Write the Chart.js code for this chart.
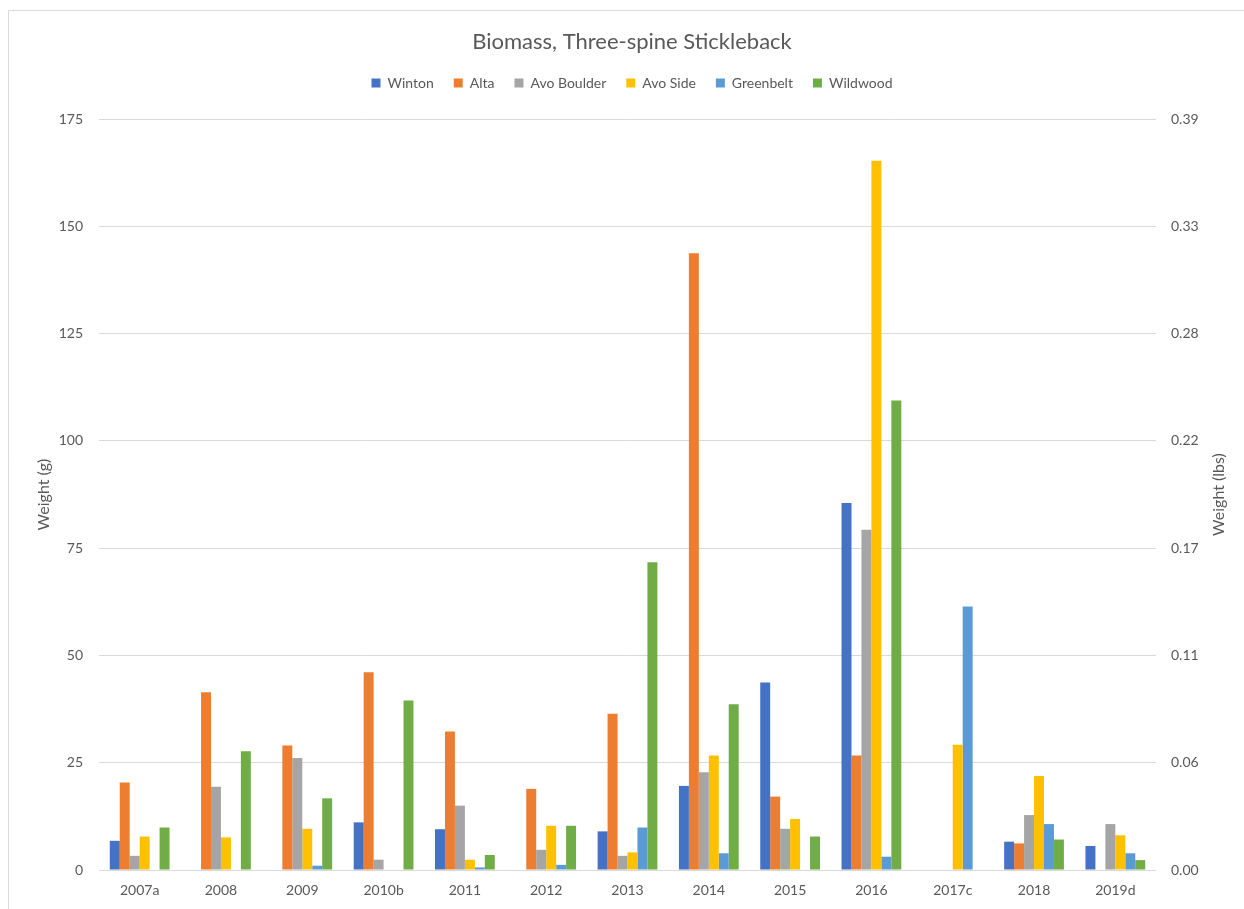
<!DOCTYPE html>
<html>
<head>
<meta charset="utf-8">
<title>Biomass, Three-spine Stickleback</title>
<script src="https://cdn.jsdelivr.net/npm/chart.js@4.4.1/dist/chart.umd.min.js"></script>
<style>
  html, body { margin: 0; padding: 0; background: #ffffff; }
  #wrap { width: 1244px; height: 909px; position: relative; }
  canvas { display: block; }
</style>
</head>
<body>
<div id="wrap"><canvas id="chart" width="1244" height="909"></canvas></div>
<script>
// Sampling years (letters mark footnoted seasons)
const years = ['2007a', '2008', '2009', '2010b', '2011', '2012', '2013', '2014', '2015', '2016', '2017c', '2018', '2019d'];

// Biomass per site, grams (null = no fish recorded)
const winton     = [6.8, null, null, 11.1, 9.5, null, 9.0, 19.6, 43.7, 85.5, null, 6.6, 5.6];
const alta       = [20.4, 41.4, 29.0, 46.1, 32.3, 18.9, 36.4, 143.7, 17.1, 26.7, null, 6.2, null];
const avoBoulder = [3.3, 19.4, 26.1, 2.4, 15.0, 4.7, 3.3, 22.8, 9.6, 79.3, null, 12.8, 10.7];
const avoSide    = [7.8, 7.6, 9.6, null, 2.4, 10.3, 4.1, 26.7, 11.9, 165.3, 29.2, 21.9, 8.1];
const greenbelt  = [null, null, 1.0, null, 0.6, 1.2, 9.9, 3.9, null, 3.1, 61.4, 10.7, 3.9];
const wildwood   = [9.9, 27.7, 16.7, 39.5, 3.5, 10.3, 71.7, 38.6, 7.8, 109.4, null, 7.1, 2.3];

const siteNames = ['Winton', 'Alta', 'Avo Boulder', 'Avo Side', 'Greenbelt', 'Wildwood'];
const siteColors = ['#4472C4', '#ED7D31', '#A5A5A5', '#FFC000', '#5B9BD5', '#70AD47'];
const siteValues = [winton, alta, avoBoulder, avoSide, greenbelt, wildwood];

// Axis range in grams; right axis shows the same ticks in pounds
const gramMax = 175;
const gramStep = 25;
const GRAMS_TO_LBS = 0.00220462;

const FONT = 'Lato, "Liberation Sans", sans-serif';
const TEXT = '#595959';
const GRID = '#D9D9D9';

// Outer frame and the rotated right-hand axis title
const decorations = {
  id: 'decorations',
  beforeDraw(chart) {
    const ctx = chart.ctx;
    ctx.save();
    ctx.strokeStyle = GRID;
    ctx.lineWidth = 1;
    ctx.beginPath();
    ctx.moveTo(8.5, chart.height + 5);
    ctx.lineTo(8.5, 10.5);
    ctx.lineTo(chart.width + 5, 10.5);
    ctx.stroke();
    ctx.restore();
  },
  afterDraw(chart) {
    const ctx = chart.ctx;
    const area = chart.chartArea;
    ctx.save();
    ctx.translate(area.right + 63, (area.top + area.bottom) / 2);
    ctx.rotate(-Math.PI / 2);
    ctx.fillStyle = TEXT;
    ctx.font = '16px ' + FONT;
    ctx.textAlign = 'center';
    ctx.textBaseline = 'middle';
    ctx.fillText('Weight (lbs)', 0, 0);
    ctx.restore();
  }
};

new Chart(document.getElementById('chart'), {
  type: 'bar',
  data: {
    labels: years,
    datasets: siteNames.map((name, i) => ({
      label: name,
      data: siteValues[i],
      backgroundColor: siteColors[i],
      borderWidth: 0,
      categoryPercentage: 0.735,
      barPercentage: 1.0,
      yAxisID: 'y'
    }))
  },
  options: {
    responsive: false,
    animation: false,
    layout: { padding: { left: 20, right: 0, top: 0, bottom: 0 } },
    plugins: {
      title: {
        display: true,
        text: 'Biomass, Three-spine Stickleback',
        color: TEXT,
        font: { family: FONT, size: 22, weight: 'normal' },
        padding: { top: 28.3, bottom: 1.3 }
      },
      // empty spacer between the legend and the plot area
      subtitle: {
        display: true,
        text: '',
        weight: 500,
        font: { size: 1, lineHeight: 1 },
        padding: { top: 18, bottom: 0 }
      },
      legend: {
        position: 'top',
        labels: {
          color: TEXT,
          font: { family: FONT, size: 14 },
          boxWidth: 9,
          boxHeight: 9,
          padding: 20
        }
      },
      tooltip: { enabled: false }
    },
    scales: {
      x: {
        grid: { display: false, drawTicks: false },
        border: { display: false },
        ticks: {
          color: TEXT,
          font: { family: FONT, size: 14 },
          padding: 12,
          maxRotation: 0
        },
        afterFit(scale) { scale.height = 39; }
      },
      y: {
        position: 'left',
        min: 0,
        max: gramMax,
        grid: { color: GRID, drawTicks: false },
        border: { display: false },
        ticks: {
          stepSize: gramStep,
          color: TEXT,
          font: { family: FONT, size: 14 },
          padding: 16
        },
        title: {
          display: true,
          text: 'Weight (g)',
          color: TEXT,
          font: { family: FONT, size: 16 },
          padding: { top: 14.4, bottom: 0 }
        },
        afterFit(scale) { scale.width = 79; }
      },
      y2: {
        position: 'right',
        min: 0,
        max: gramMax,
        grid: { display: false, drawTicks: false },
        border: { display: false },
        ticks: {
          stepSize: gramStep,
          color: TEXT,
          font: { family: FONT, size: 14 },
          padding: 15,
          callback: (v) => (v * GRAMS_TO_LBS).toFixed(2)
        },
        afterFit(scale) { scale.width = 88; }
      }
    }
  },
  plugins: [decorations]
});
</script>
</body>
</html>
